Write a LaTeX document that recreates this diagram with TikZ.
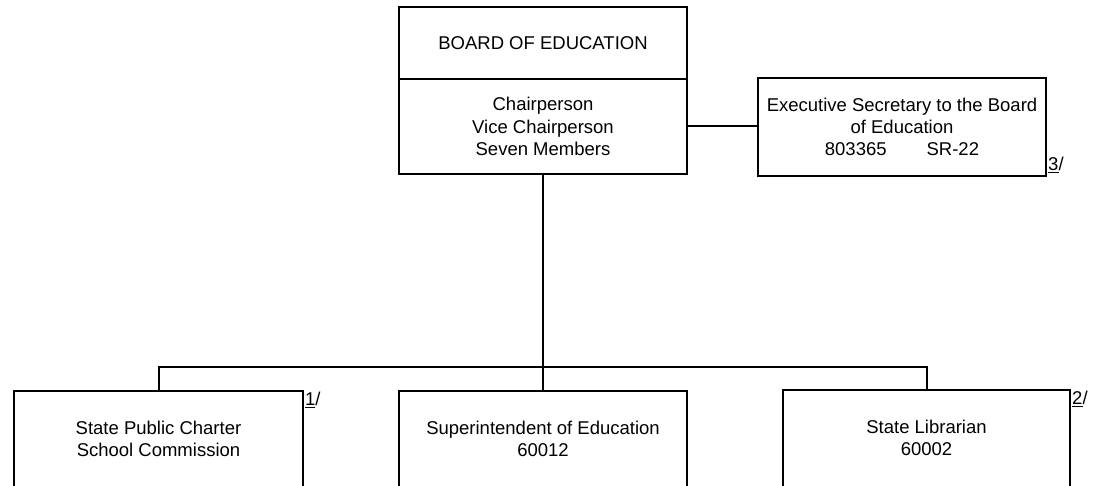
\documentclass[tikz,border=0pt]{standalone}
\usepackage{fontspec}
\setmainfont{Liberation Sans}
\begin{document}
\begin{tikzpicture}[x=1pt,y=-1pt,
  every node/.style={font=\fontsize{18.5}{22.2}\selectfont},
  box/.style={draw, line width=2pt, inner sep=0pt, align=center, minimum width=288pt},
  lbl/.style={anchor=north, yshift=-31pt, align=center, inner sep=0pt},
  fn/.style={inner sep=1pt},
  conn/.style={line width=2pt}]
\useasboundingbox (0,0) rectangle (1094,486);
\clip (0,0) rectangle (1094,486);
\node[box, minimum height=72pt] (boardT) at (543,43) {BOARD OF EDUCATION};
\node[box, minimum height=95pt] (boardB) at (543,126.5) {Chairperson\\Vice Chairperson\\Seven Members};
\node[box, minimum height=98pt] (exec) at (902,127) {Executive Secretary to the Board\\of Education\\803365\hspace{40pt}SR-22};
\node[box, minimum width=289pt, minimum height=120pt,
  label={[lbl]north:State Public Charter\\School Commission}] (lft) at (158.5,451) {};
\node[box, minimum height=120pt,
  label={[lbl]north:Superintendent of Education\\60012}] (mid) at (543,451) {};
\node[box, minimum width=287pt, minimum height=120pt,
  label={[lbl]north:State Librarian\\60002}] (rgt) at (926.5,450) {};
\coordinate (bar) at (543,367);
\draw[conn] (boardB.east) -- (boardB.east -| exec.west);
\draw[conn] (boardB.south) -- (mid.north);
\draw[conn] (lft.north) -- (lft.north |- bar) -- (rgt.north |- bar) -- (rgt.north);
\node[fn, anchor=north west, yshift=-1pt] (f1) at (lft.north east) {\underline{1}/};
\node[fn, anchor=north west, yshift=-1pt] (f2) at (rgt.north east) {\underline{2}/};
\node[fn, anchor=south west, yshift=3pt] (f3) at (exec.south east) {\underline{3}/};
\end{tikzpicture}
\end{document}
